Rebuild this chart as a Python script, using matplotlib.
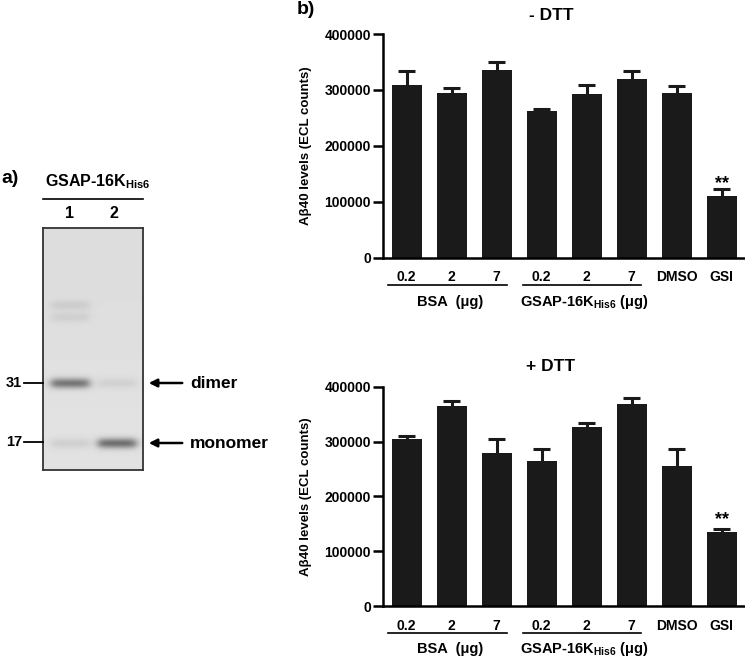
import numpy as np
import matplotlib
matplotlib.use("Agg")
import matplotlib.pyplot as plt
from matplotlib.lines import Line2D
import matplotlib.transforms as mtransforms

plt.rcParams['font.family'] = ['Liberation Sans', 'DejaVu Sans']
plt.rcParams['font.weight'] = 'bold'
plt.rcParams['mathtext.fontset'] = 'custom'
plt.rcParams['mathtext.rm'] = 'Liberation Sans:bold'
plt.rcParams['mathtext.bf'] = 'Liberation Sans:bold'
plt.rcParams['mathtext.it'] = 'Liberation Sans:bold'

# ---------------- data ----------------
categories = ["0.2", "2", "7", "0.2", "2", "7", "DMSO", "GSI"]
minus_dtt = [308700, 293700, 335500, 262700, 293100, 319400, 294900, 110400]
minus_dtt_err = [25000, 9000, 14300, 3600, 16100, 13700, 11300, 12500]
plus_dtt = [304000, 364700, 279600, 265000, 327100, 367800, 254700, 134300]
plus_dtt_err = [6000, 9700, 24900, 20700, 7300, 11600, 32200, 6700]
yticks = [0, 100000, 200000, 300000, 400000]
group_labels = ["BSA  (μg)", "GSAP-16K$_{\\mathrm{His6}}$ (μg)"]
sig_label = "**"

# gel band description: (lane, row, darkness)
gel_lanes = ["1", "2"]
gel_markers = ["31", "17"]
gel_bands = [
    (0, "faint_a", 0.07),
    (0, "faint_b", 0.06),
    (0, "31", 0.42),
    (0, "17", 0.07),
    (1, "31", 0.06),
    (1, "17", 0.45),
]

W, H = 745, 659
fig = plt.figure(figsize=(W / 100, H / 100), dpi=100)
BAR = "#1a1a1a"


def fx(px):
    return px / W


def fy(py):
    return 1 - py / H


def bar_panel(rect, values, errs, title, ys, sig_y):
    ax = fig.add_axes(rect)
    x = np.arange(len(values))
    v = np.asarray(values, dtype=float)
    e = np.asarray(errs, dtype=float)
    ax.vlines(x, v, v + e, color=BAR, lw=2.2, zorder=1)
    ax.hlines(v + e, x - 0.19, x + 0.19, color=BAR, lw=2.2, zorder=1)
    ax.bar(x, v, width=0.667, color=BAR, zorder=2)
    ax.set_xlim(-0.515, 7.5)
    ax.set_ylim(0, 400000)
    ax.set_yticks(yticks)
    ax.set_yticklabels([str(t) for t in yticks], fontsize=10, fontweight='bold')
    ax.set_xticks(x)
    ax.set_xticklabels(categories, fontsize=10, fontweight='bold')
    ax.tick_params(axis='x', length=0, pad=9)
    ax.tick_params(axis='y', length=7, width=1.8, direction='out', pad=2)
    for s in ['top', 'right']:
        ax.spines[s].set_visible(False)
    for s in ['left', 'bottom']:
        ax.spines[s].set_linewidth(1.8)
    tr = mtransforms.blended_transform_factory(ax.transData, fig.transFigure)
    line_y = fy(ys[1])
    for start, lab, off in zip([0, 3], group_labels, [0.96, 0.95]):
        ax.add_line(Line2D([start - 0.42, start + 2.22], [line_y, line_y],
                           transform=tr, color='black', lw=1.2, clip_on=False))
        ax.text(start + off, fy(ys[2]), lab, transform=tr, ha='center',
                va='center', fontsize=10.5, fontweight='bold')
    ax.text(7, sig_y, sig_label, ha='center', va='center', fontsize=13,
            fontweight='bold', transform=tr)
    fig.text(fx(551), fy(ys[0]), title, ha='center', va='center',
             fontsize=12.5, fontweight='bold')
    bb = ax.get_position()
    fig.text(fx(306), (bb.y0 + bb.y1) / 2, "Aβ40 levels (ECL counts)",
             rotation=90, ha='center', va='center', fontsize=9.5,
             fontweight='bold')
    return ax


top_rect = [fx(383.5), fy(257.5), fx(744) - fx(383.5), fy(34) - fy(257.5)]
bot_rect = [fx(383.5), fy(606), fx(744) - fx(383.5), fy(386.7) - fy(606)]
bar_panel(top_rect, minus_dtt, minus_dtt_err, "- DTT", (15, 285, 302), fy(184))
bar_panel(bot_rect, plus_dtt, plus_dtt_err, "+ DTT", (366, 633, 649), fy(520))

# ---------------- gel (panel a) ----------------
gx0, gy0, gx1, gy1 = 43, 228, 143, 470
gax = fig.add_axes([fx(gx0), fy(gy1), fx(gx1) - fx(gx0), fy(gy0) - fy(gy1)])
gw, gh = gx1 - gx0, gy1 - gy0
lane_x = [27, 74]
row_y = {"faint_a": 77, "faint_b": 89, "31": 155, "17": 215}
yy, xx = np.mgrid[0:gh * 2, 0:gw * 2] / 2.0
img = np.full(yy.shape, 0.885)
img -= 0.02 * np.exp(-((yy) / 120.0) ** 2)
for lane, row, dark in gel_bands:
    cx = lane_x[lane]
    cy = row_y[row]
    prof_x = 1 / (1 + np.exp((np.abs(xx - cx) - 19) / 2.5))
    prof_y = np.exp(-0.5 * ((yy - cy) / 3.6) ** 2)
    img -= dark * prof_x * prof_y
gax.imshow(img, cmap='gray', vmin=0, vmax=1, extent=(0, gw, gh, 0),
           aspect='auto', interpolation='bilinear')
gax.set_xticks([])
gax.set_yticks([])
for s in gax.spines.values():
    s.set_linewidth(1.3)
    s.set_color('#333333')

fig.text(fx(1), fy(179), "a)", ha='left', va='center', fontsize=14,
         fontweight='bold')
fig.text(fx(297), fy(10), "b)", ha='left', va='center', fontsize=14,
         fontweight='bold')
fig.text(fx(45), fy(182), "GSAP-16K$_{\\mathrm{His6}}$", ha='left', va='center',
         fontsize=11.5, fontweight='bold')
fig.add_artist(Line2D([fx(43), fx(143)], [fy(199), fy(199)], color='black',
                      lw=1.2))
for lab, px in zip(gel_lanes, [69, 114]):
    fig.text(fx(px), fy(214), lab, ha='center', va='center', fontsize=11.5,
             fontweight='bold')
for lab, py in zip(gel_markers, [383, 442]):
    fig.text(fx(22), fy(py), lab, ha='right', va='center', fontsize=10.5,
             fontweight='bold')
    fig.add_artist(Line2D([fx(24), fx(43)], [fy(py), fy(py)], color='black',
                          lw=1.3))
for lab, py in zip(["dimer", "monomer"], [383, 443]):
    fig.add_artist(plt.Annotation("", xy=(fx(146), fy(py)),
                                  xytext=(fx(185), fy(py)),
                                  xycoords='figure fraction',
                                  textcoords='figure fraction',
                                  arrowprops=dict(arrowstyle='-|>', lw=1.8,
                                                  color='black',
                                                  mutation_scale=12)))
    fig.text(fx(190), fy(py), lab, ha='left', va='center', fontsize=12.5,
             fontweight='bold')

fig.savefig("out.png", dpi=100)
